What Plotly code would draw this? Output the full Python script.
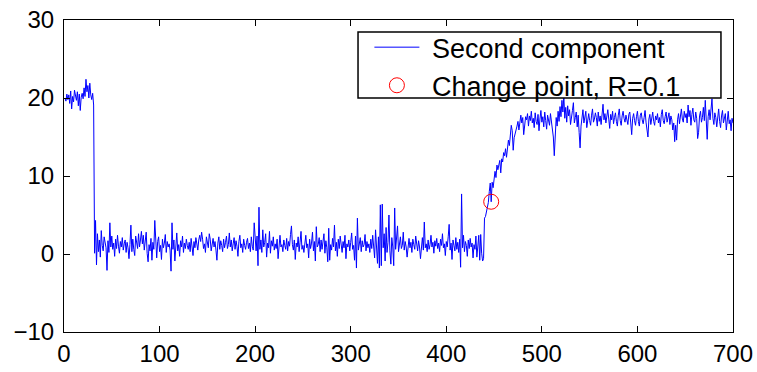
import plotly.graph_objects as go

# ---- data ----
seg_high_start = [
    20.0, 19.6, 20.5, 19.8, 20.4, 19.3, 20.9, 18.6, 20.2, 19.5,
    21.0, 20.3, 19.7, 20.8, 19.0, 20.5, 18.4, 20.1, 20.6, 19.9,
    21.3, 20.2, 22.4, 20.8, 21.6, 20.0, 21.9, 20.4, 19.8, 20.6, 19.1,
]
seg_low = [
    0.1, 4.3, -1.4, 2.6, 0.3, 1.8, -0.4, 3.0, 1.1,
    0.4, 2.2, 1.5, 0.8, -2.1, 1.7, 0.2, 4.0, 0.9, 2.3,
    0.6, 1.4, -0.3, 1.9, 0.7, 2.4, 1.0, 0.1, 1.6, 0.9,
    2.1, 0.5, 1.3, 1.8, 0.2, 1.5, 0.8, -0.6, 1.2, 3.7,
    0.3, 1.9, 0.6, -0.2, 2.3, 1.4, 0.7, 2.6, 0.9, 1.8,
    2.9, 1.3, 2.4, 0.5, 1.7, 2.8, 0.1, -1.0, 1.2, 0.4,
    2.0, -0.8, 1.5, 0.6, 4.3, 0.9, -0.5, 1.6, 2.2, 0.3,
    1.1, -0.7, 1.9, 0.8, 1.4, 2.5, 0.2, 1.6, 0.9, 1.3,
    0.5, -2.2, 4.0, 0.6, 1.8, -0.9, 1.5, 2.7, 0.4, 1.2,
    -0.3, 1.7, 0.9, 2.3, 0.2, 1.4, 0.7, 1.9, 1.1, 0.6,
    1.5, 0.3, 2.0, 1.2, -0.2, 1.6, 0.8, 2.1, 1.4, 0.5,
    1.8, 2.4, 1.6, 2.8, 1.9, 0.7, 1.3, 0.2, 2.2, 1.5,
    0.8, 2.6, 1.9, 0.4, 1.2, 2.0, 0.9, 1.6, 0.5, -0.8,
    1.4, 2.2, 0.6, 1.7, 1.1, 0.3, 1.9, 0.8, 1.5, 2.3,
    0.7, 1.2, 2.7, 0.9, 1.8, 0.4, 1.3, 2.1, 0.6, 1.7,
    1.0, -0.3, 1.6, 2.4, 0.8, 1.3, 0.2, 1.9, 1.1, 0.6,
    1.5, 2.0, 0.7, 1.4, 0.3, 2.2, 1.0, 0.5, 4.0, 1.2,
    0.4, 2.3, -1.5, 6.0, 0.6, 1.8, 0.2, 3.1, 0.9, 1.5,
    2.6, -0.4, 1.4, 0.8, 2.9, 0.1, 1.7, 1.0, 2.2, 0.5,
    1.3, 0.7, 1.9, -0.6, 1.5, 2.4, 0.9, 1.2, 0.3, 1.8,
    1.1, 0.6, 2.0, 0.4, 1.6, 1.0, 2.5, 3.6, 1.2, 0.5,
    1.8, -0.7, 1.4, 0.9, 2.2, 0.3, 1.5, 2.9, 0.6, 1.1,
    0.2, 1.7, 2.4, 0.8, 1.3, -0.5, 1.9, 0.7, 1.4, 2.8,
    0.4, 1.6, -0.9, 3.5, 0.9, 1.2, 2.1, 0.3, 1.8, 0.6,
    1.4, 2.6, 0.1, 1.7, 0.8, -1.0, 3.3, -0.8, 1.2, 0.5,
    2.0, 0.9, 3.7, 0.4, 1.5, -0.3, 1.9, 0.7, 2.3, 1.1,
    0.2, 1.6, 0.8, 2.4, -0.6, 1.3, 0.9, 1.8, 0.4, 1.5,
    2.7, 0.6, 1.1, -0.8, 2.3, -1.8, 4.6, 0.5, 1.4, 2.1,
    0.3, 1.7, 0.9, 1.2, 2.5, 0.4, 1.6, 0.8, 1.3, 0.2,
    1.9, 0.7, 2.4, 1.0, -0.5, 3.1, 0.6, -1.2, 2.2, -1.8,
    6.3, -1.5, 6.4, 0.8, 2.6, -0.9, 3.4, 0.2, 1.5, 5.0,
    0.4, -1.3, 2.1, 0.9, -1.5, 5.9, 0.6, 1.8, 3.6, 0.3,
    1.4, 2.2, 0.7, 1.1, 2.8, 0.5, 1.6, 0.9, -0.4, 1.3,
    2.0, 0.8, 1.5, 0.2, 1.9, 1.2, 0.6, 2.3, 1.0, 0.4,
    1.7, 0.9, -0.6, 1.4, 2.1, 0.5, 4.1, 0.8, 1.3, 0.3,
    1.8, 0.6, 1.2, 2.4, 0.9, 1.5, 0.1, 1.7, 1.0, 2.0,
    0.7, 1.4, 0.3, 1.9, 1.1, 2.6, 0.8, 1.3, -0.2, 1.6,
    0.9, 2.2, 3.8, 0.5, 1.4, -0.7, 1.8, 1.1, 0.4, 2.1,
    0.6, 1.5, 0.2, 1.9, -1.7, 7.7, 0.8, 2.4, 0.3, 1.6,
    1.1, -0.3, 1.8, 0.7, 2.0, 0.9, 1.4, -0.5, 1.2, 0.6,
    2.3, -0.4, 1.7, 2.4, -0.8, 2.5, 0.1, -0.9, -0.6,
]
seg_ramp = [
    4.6, 4.8, 5.4, 6.2, 6.6, 8.0, 9.1, 6.7, 9.2, 8.5,
    9.9, 10.6, 9.8, 11.4, 10.8, 11.6, 12.0, 10.4, 12.2, 11.8,
    13.0, 12.6, 13.5, 12.4, 14.0, 14.6, 13.9, 15.2, 16.5, 15.8,
    13.3, 14.9, 15.6, 15.9, 16.4, 17.0, 15.9, 17.3, 17.8, 16.8,
    17.5, 15.3, 16.9, 17.6, 17.2, 18.0, 16.4, 17.7, 17.1, 18.3, 16.8,
]
seg_high_end = [
    17.4, 16.2, 18.1, 17.0, 16.6, 17.9, 15.8, 17.3, 18.4, 16.9,
    17.6, 16.3, 18.2, 17.1, 16.0, 17.8, 17.3, 16.5, 18.0, 17.2,
    16.1, 15.0, 12.6, 14.8, 17.5, 16.4, 18.3, 17.0, 18.9, 17.6,
    19.7, 18.2, 20.2, 17.4, 18.8, 16.9, 19.0, 17.7, 18.5, 16.6,
    17.9, 18.4, 19.4, 16.8, 17.5, 18.2, 16.3, 17.8, 15.6, 13.6,
    16.4, 17.9, 18.5, 16.8, 17.6, 18.3, 16.2, 17.4, 18.0, 17.1,
    16.5, 17.8, 18.6, 16.9, 17.3, 18.1, 17.5, 16.4, 18.2, 17.0,
    17.7, 16.6, 18.4, 19.2, 17.2, 18.0, 16.8, 17.6, 18.5, 17.3,
    16.1, 17.9, 17.2, 18.3, 16.7, 17.5, 18.1, 17.0, 16.4, 17.8,
    18.6, 17.1, 16.5, 17.7, 18.3, 17.4, 16.9, 17.8, 17.2, 16.6,
    17.9, 18.2, 16.8, 15.3, 17.4, 18.0, 17.1, 16.5, 17.6, 18.3,
    17.0, 16.4, 17.8, 18.1, 17.2, 16.7, 17.5, 18.4, 16.9, 16.2,
    15.0, 17.3, 17.9, 16.6, 17.4, 18.2, 17.0, 16.5, 17.7, 17.2,
    18.0, 16.8, 17.5, 16.3, 17.9, 18.5, 17.1, 16.7, 17.6, 18.2,
    16.9, 17.4, 18.1, 16.6, 17.7, 17.2, 15.9, 16.8, 14.4, 16.5,
    14.6, 17.2, 18.0, 16.7, 17.8, 18.6, 17.3, 16.9, 18.3, 17.5,
    18.0, 16.8, 19.1, 17.6, 18.4, 16.5, 17.9, 18.7, 17.2, 16.9,
    18.2, 17.4, 14.8, 15.6, 17.7, 18.3, 16.9, 17.5, 18.8, 17.1,
    19.7, 16.2, 14.7, 17.6, 18.5, 17.2, 18.9, 19.9, 17.4, 16.6,
    18.1, 17.5, 16.3, 17.9, 18.6, 17.0, 16.2, 17.7, 18.4, 16.8,
    17.3, 18.0, 15.9, 17.6, 18.3, 16.7, 17.2, 15.8, 17.4, 16.8,
]
component = seg_high_start + seg_low + seg_ramp + seg_high_end
sample_index = list(range(1, len(component) + 1))

change_x = [447]
change_y = [6.7]

x_ticks = [0, 100, 200, 300, 400, 500, 600, 700]
y_ticks = [-10, 0, 10, 20, 30]

FONT = "Liberation Sans, Arial, Helvetica, sans-serif"
PAD = "\u00a0"

fig = go.Figure()
fig.add_trace(go.Scatter(
    x=sample_index, y=component, mode="lines",
    name=PAD + "Second component",
    line=dict(color="#0000ff", width=1),
))
fig.add_trace(go.Scatter(
    x=change_x, y=change_y, mode="markers",
    name=PAD + "Change point, R=0.1",
    marker=dict(symbol="circle-open", size=15, color="#ff0000",
                line=dict(width=1, color="#ff0000")),
))

axis_common = dict(
    showline=True, linecolor="black", linewidth=1, mirror="ticks",
    ticks="inside", ticklen=6, tickcolor="black", tickwidth=1,
    showgrid=False, zeroline=False, automargin=False,
    tickfont=dict(family=FONT, size=24, color="black"),
)

fig.update_layout(
    width=757, height=372,
    margin=dict(l=64, r=24, t=20, b=40),
    paper_bgcolor="white", plot_bgcolor="white",
    xaxis=dict(range=[0, 700], tickvals=x_ticks, ticklabelstandoff=0, **axis_common),
    yaxis=dict(range=[-10, 30], tickvals=y_ticks, ticklabelstandoff=4, **axis_common),
    showlegend=True,
    legend=dict(
        x=0.4565, y=0.99, xanchor="left", yanchor="top",
        bgcolor="rgba(0,0,0,0)", borderwidth=0,
        font=dict(family=FONT, size=27, color="black"),
        itemwidth=45, tracegroupgap=0,
    ),
    shapes=[dict(
        type="rect", xref="paper", yref="paper",
        x0=0.4395, x1=0.982, y0=0.75, y1=0.9615,
        line=dict(color="black", width=1.5), fillcolor="white", layer="above",
    )],
)

fig.write_html("out.html")
